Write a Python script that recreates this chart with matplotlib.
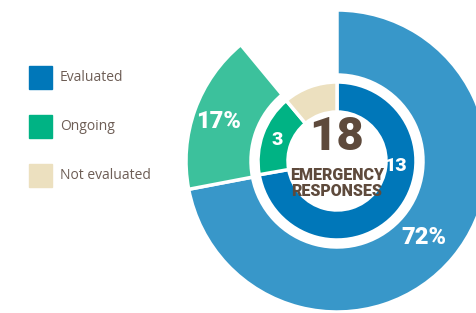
import matplotlib.pyplot as plt
from matplotlib.patches import Rectangle

# Data
categories = ['Evaluated', 'Ongoing', 'Not evaluated']
percent = [72, 17, 11]
counts = [13, 3, 2]
total = 18

outer_colors = ['#3897c9', '#3cc19c', 'none']
inner_colors = ['#0077b9', '#00b384', '#ece0bf']
legend_colors = ['#0077b9', '#00b384', '#ece0bf']
brown = '#5e4a3c'
num_font = ['Roboto', 'DejaVu Sans']

W, H = 477, 313
fig = plt.figure(figsize=(W / 100, H / 100), dpi=100)
ax = fig.add_axes([0, 0, 1, 1])

cx, cy = 337, H - 161

# outer ring: only evaluated + ongoing shown
wedges, _ = ax.pie(percent, radius=151, center=(cx, cy), colors=outer_colors,
                   startangle=90, counterclock=False,
                   wedgeprops=dict(width=65, edgecolor='white', linewidth=2.5))
wedges[2].set_visible(False)

# inner ring
ax.pie(counts, radius=79, center=(cx, cy), colors=inner_colors,
       startangle=90, counterclock=False,
       wedgeprops=dict(width=30, edgecolor='white', linewidth=2.5))

ax.set_xlim(0, W)
ax.set_ylim(0, H)
ax.set_aspect('equal')
ax.axis('off')

# labels on the rings
ax.text(219, H - 121, f'{percent[1]}%', color='white', fontsize=17, fontweight='black',
        family=num_font, ha='center', va='center')
ax.text(424, H - 237, f'{percent[0]}%', color='white', fontsize=17, fontweight='black',
        family=num_font, ha='center', va='center')
ax.text(277, H - 140, str(counts[1]), color='white', fontsize=14, fontweight='black',
        family=num_font, ha='center', va='center')
ax.text(396, H - 166, str(counts[0]), color='white', fontsize=14, fontweight='black',
        family=num_font, ha='center', va='center')

# centre text
ax.text(cx, H - 137, str(total), color=brown, fontsize=34, fontweight='black',
        family=num_font, ha='center', va='center')
ax.text(cx, H - 183, 'EMERGENCY\nRESPONSES', color=brown, fontsize=11.5, fontweight='black',
        family=num_font, ha='center', va='center', linespacing=1.05)

# legend
for i, (lab, col) in enumerate(zip(categories, legend_colors)):
    top = 66 + i * 49
    ax.add_patch(Rectangle((29, H - top - 23), 23, 23, color=col))
    ax.text(60, H - top - 11.5, lab, color='#6d5d55', fontsize=10,
            family='Open Sans', ha='left', va='center')

fig.savefig('out.png', dpi=100)
